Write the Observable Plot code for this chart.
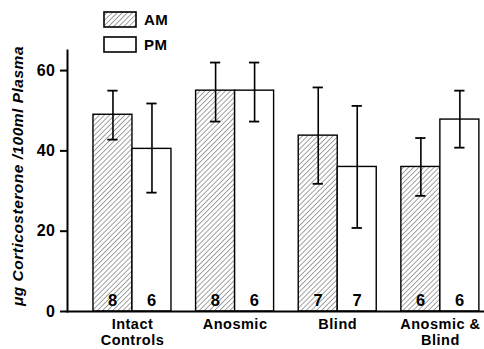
<!DOCTYPE html>
<html>
<head>
<meta charset="utf-8">
<script src="https://cdn.jsdelivr.net/npm/d3@7"></script>
<script src="https://cdn.jsdelivr.net/npm/@observablehq/plot@0.6"></script>
<style>
  body { margin: 0; background: #fff; }
  #wrap { position: relative; width: 484px; height: 349px; overflow: hidden; font-family: "Liberation Sans", Arial, sans-serif; }
  #wrap svg text { letter-spacing: 0.5px; }
  #legend { position: absolute; left: 103px; top: 11px; font-weight: bold; font-size: 15px; letter-spacing: 0.5px; }
  .li { display: flex; align-items: center; height: 17px; margin-bottom: 8px; }
  .li svg { margin-right: 7px; }
</style>
</head>
<body>
<div id="wrap"><div id="legend"></div></div>
<script>
const groups = ["Intact\nControls", "Anosmic", "Blind", "Anosmic &\nBlind"];
const series = ["AM", "PM"];
const amMean = [49, 55, 43.8, 36];
const amLow  = [42.8, 47.3, 31.8, 28.8];
const amHigh = [55, 62, 55.8, 43.2];
const pmMean = [40.5, 55, 36, 47.8];
const pmLow  = [29.6, 47.3, 20.8, 40.8];
const pmHigh = [51.8, 62, 51.2, 55];
const amN = [8, 8, 7, 6];
const pmN = [6, 6, 7, 6];
const yTicks = [0, 20, 40, 60];
const yLabel = "μg Corticosterone /100ml Plasma";

const barW = 0.38;
const rows = [];
groups.forEach((g, i) => {
  rows.push({g: i, s: "AM", x1: i - barW, x2: i, xc: i - barW / 2, mean: amMean[i], low: amLow[i], high: amHigh[i], n: amN[i]});
  rows.push({g: i, s: "PM", x1: i, x2: i + barW, xc: i + barW / 2, mean: pmMean[i], low: pmLow[i], high: pmHigh[i], n: pmN[i]});
});
const cap = 0.05;

const defsMark = () => {
  const defs = d3.create("svg:defs");
  const p = defs.append("pattern").attr("id", "hatch").attr("patternUnits", "userSpaceOnUse")
    .attr("width", 3.6).attr("height", 3.6).attr("patternTransform", "rotate(45)");
  p.append("rect").attr("width", 3.6).attr("height", 3.6).attr("fill", "#fff");
  p.append("line").attr("x1", 0).attr("y1", 0).attr("x2", 0).attr("y2", 3.6).attr("stroke", "#444").attr("stroke-width", 1);
  return defs.node();
};

const chart = Plot.plot({
  width: 484,
  height: 349,
  marginTop: 50,
  marginBottom: 38,
  marginLeft: 67,
  marginRight: 0,
  style: {fontFamily: "'Liberation Sans', Arial, sans-serif", background: "#fff"},
  x: {domain: [-0.633, 3.43], axis: null},
  y: {domain: [0, 65], axis: null},
  marks: [
    defsMark,
    Plot.rectY(rows, {x1: "x1", x2: "x2", y1: 0, y2: "mean", fill: d => d.s === "AM" ? "url(#hatch)" : "#fff", stroke: "#000", strokeWidth: 1.4}),
    Plot.ruleX(rows, {x: "xc", y1: "low", y2: "high", stroke: "#000", strokeWidth: 1.6}),
    Plot.ruleY(rows, {y: "low", x1: d => d.xc - cap, x2: d => d.xc + cap, stroke: "#000", strokeWidth: 1.8}),
    Plot.ruleY(rows, {y: "high", x1: d => d.xc - cap, x2: d => d.xc + cap, stroke: "#000", strokeWidth: 1.8}),
    Plot.text(rows, {x: "xc", y: 0, text: "n", dy: -10.5, fontSize: 16.5, fontWeight: "bold", fill: "#000"}),
    Plot.ruleY([0], {stroke: "#000", strokeWidth: 2}),
    Plot.frame({anchor: "left", stroke: "#000", strokeWidth: 2}),
    Plot.axisY({ticks: yTicks, tickSize: 7, tickPadding: 5, tickFormat: d => d, fontSize: 16, fontWeight: "bold", label: null, stroke: "#000", strokeWidth: 2, fill: "#000"}),
    Plot.axisX({ticks: d3.range(groups.length), tickSize: 0, tickPadding: 6, tickFormat: i => groups[i], fontSize: 14.5, fontWeight: "bold", label: null, fill: "#000", lineHeight: 1.12}),
    Plot.text([yLabel], {frameAnchor: "left", textAnchor: "middle", rotate: -90, dx: -49, dy: -5, fontSize: 15.5, fontStyle: "italic", fontWeight: "bold", fill: "#000"})
  ]
});
const wrap = document.getElementById("wrap");
wrap.insertBefore(chart, wrap.firstChild);

const legend = document.getElementById("legend");
series.forEach(s => {
  const item = document.createElement("div");
  item.className = "li";
  const fill = s === "AM" ? "url(#hatch)" : "#fff";
  item.innerHTML = `<svg width="34" height="17"><rect x="1" y="1" width="32" height="15" fill="${fill}" stroke="#000" stroke-width="1.6"/></svg><span>${s}</span>`;
  legend.appendChild(item);
});
</script>
</body>
</html>
